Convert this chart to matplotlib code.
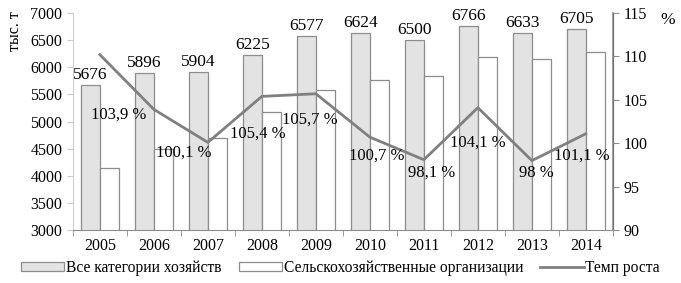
import matplotlib
matplotlib.use("Agg")
import matplotlib.pyplot as plt
from matplotlib.patches import Patch
from matplotlib.lines import Line2D
import numpy as np

plt.rcParams['font.family'] = ['Liberation Serif', 'DejaVu Serif']

years = ['2005', '2006', '2007', '2008', '2009', '2010', '2011', '2012', '2013', '2014']
all_farms = [5676, 5896, 5904, 6225, 6577, 6624, 6500, 6766, 6633, 6705]
agri_orgs = [4150, 4500, 4700, 5170, 5590, 5760, 5840, 6190, 6160, 6290]
growth = [110.2, 103.9, 100.1, 105.4, 105.7, 100.7, 98.1, 104.1, 98.0, 101.1]
growth_labels = ['', '103,9 %', '100,1 %', '105,4 %', '105,7 %', '100,7 %',
                 '98,1 %', '104,1 %', '98 %', '101,1 %']

# label offsets in pixels (dx, dy) from each line point
label_off = [(0, 0), (-35, -5), (-24, -10), (-4, -37), (-6, -26), (7, -18),
             (8, -13), (0, -35), (4, -12), (-4, -22)]

GRAY_FILL = '#e3e3e3'
EDGE = '#8c8c8c'
LINE = '#808080'

fig = plt.figure(figsize=(6.81, 2.83), dpi=100)
ax = fig.add_axes([0.107, 0.187, 0.793, 0.767])
ax2 = ax.twinx()

x = np.arange(len(years))
w = 0.35
ax.bar(x - w / 2, all_farms, w, color=GRAY_FILL, edgecolor=EDGE, linewidth=0.9, zorder=2)
ax.bar(x + w / 2, agri_orgs, w, color='white', edgecolor=EDGE, linewidth=0.9, zorder=2)

for xi, v in zip(x, all_farms):
    ax.text(xi - w / 2, v + 40, str(v), ha='center', va='bottom', fontsize=12.5, zorder=5)

ax.set_ylim(3000, 7000)
ax.set_yticks(range(3000, 7001, 500))
ax.set_xlim(-0.5, len(years) - 0.5)
ax.set_xticks(x)
ax.set_xticklabels(years)
ax.set_xticks(np.arange(-0.5, len(years), 1), minor=True)
ax.tick_params(axis='x', which='major', length=0, pad=6, labelsize=11.5)
ax.tick_params(axis='x', which='minor', length=4, color=EDGE)
ax.tick_params(axis='y', length=4, color='#c8c8c8', labelsize=11.5)

ax2.plot(x, growth, color=LINE, linewidth=2, zorder=4)
ax2.set_ylim(90, 115)
ax2.set_yticks(range(90, 116, 5))
ax2.tick_params(axis='y', length=4, color=EDGE, labelsize=11.5)
for xi, v, lab, off in zip(x, growth, growth_labels, label_off):
    if lab:
        ax2.annotate(lab, (xi, v), xytext=off, textcoords='offset pixels',
                     ha='center', va='center', fontsize=12, zorder=6)

for a in (ax, ax2):
    a.spines['top'].set_visible(False)
ax.spines['left'].set_color('#d0d0d0')
ax.spines['bottom'].set_color(EDGE)
ax2.spines['left'].set_visible(False)
ax2.spines['bottom'].set_visible(False)
ax2.spines['right'].set_color(EDGE)
ax2.spines['right'].set_linewidth(1.2)

ax.set_zorder(ax2.get_zorder() - 1)
ax2.patch.set_visible(False)
ax.patch.set_visible(False)

fig.text(0.022, 0.96, 'тыс. т', rotation=90, ha='center', va='top', fontsize=11.5)
fig.text(0.98, 0.93, '%', ha='center', va='center', fontsize=12.5)

handles = [Patch(facecolor=GRAY_FILL, edgecolor=EDGE, linewidth=0.9),
           Patch(facecolor='white', edgecolor=EDGE, linewidth=0.9),
           Line2D([0], [0], color=LINE, linewidth=2)]
fig.legend(handles, ['Все категории хозяйств', 'Сельскохозяйственные организации', 'Темп роста'],
           loc='lower center', bbox_to_anchor=(0.5, -0.025), ncol=3, frameon=False,
           fontsize=11.2, handlelength=2.8, handleheight=0.55, handletextpad=0.1,
           columnspacing=1.1)

fig.savefig('out.png', dpi=100)
